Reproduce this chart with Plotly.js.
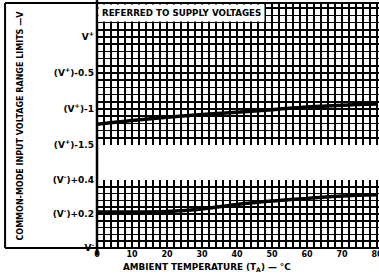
<!DOCTYPE html>
<html>
<head>
<meta charset="utf-8">
<script src="https://cdn.plot.ly/plotly-3.0.1.min.js"></script>
<style>html,body{margin:0;padding:0;background:#fff;}#chart{width:379px;height:277px;}</style>
</head>
<body>
<div id="chart"></div>
<script>
// Ambient temperature, deg C
const temps = [0, 10, 20, 30, 40, 50, 60, 70, 80];
// Upper common-mode limit, volts relative to V+
const upperLimit = [-1.213, -1.16, -1.115, -1.078, -1.044, -1.01, -0.972, -0.947, -0.931];
// Lower common-mode limit, volts relative to V-
const lowerLimit = [0.212, 0.212, 0.215, 0.229, 0.256, 0.276, 0.291, 0.306, 0.313];

const xTickVals = [0, 10, 20, 30, 40, 50, 60, 70, 80];
const xTickText = ['0', '10', '20', '30', '40', '50', '60', '70', '80'];
const upperTickVals = [0, -0.5, -1, -1.5];
const upperTickText = ['V<sup>+</sup>', '(V<sup>+</sup>)-0.5', '(V<sup>+</sup>)-1', '(V<sup>+</sup>)-1.5'];
const lowerTickVals = [0.4, 0.2, 0];
const lowerTickText = ['(V<sup>-</sup>)+0.4', '(V<sup>-</sup>)+0.2', 'V<sup>-</sup>'];

const F = 'DejaVu Sans';
const tickFont = {family: F, size: 9, color: '#000', weight: 'bold'};

const traces = [
  {x: temps, y: upperLimit, xaxis: 'x', yaxis: 'y', mode: 'lines',
   line: {color: '#000', width: 3.5, shape: 'spline'}, hoverinfo: 'skip'},
  {x: temps, y: lowerLimit, xaxis: 'x', yaxis: 'y2', mode: 'lines',
   line: {color: '#000', width: 3.5, shape: 'spline'}, hoverinfo: 'skip'}
];

const gridCommon = {
  showline: false, zeroline: false, ticks: '', fixedrange: true
};

const layout = {
  width: 379, height: 277,
  margin: {l: 97, r: 0, t: 3, b: 29},
  paper_bgcolor: '#fff', plot_bgcolor: '#fff',
  showlegend: false,
  font: {family: F, color: '#000'},
  xaxis: Object.assign({}, gridCommon, {
    range: [0, 80.57], domain: [0, 1],
    tickmode: 'array', tickvals: xTickVals, ticktext: xTickText,
    tickfont: {family: F, size: 8, color: '#000', weight: 'bold'},
    ticklabeloverflow: 'allow',
    showgrid: true, gridcolor: '#000', gridwidth: 2,
    minor: {tick0: 0, dtick: 2, showgrid: true, gridcolor: '#000', gridwidth: 1.5},
    anchor: 'y2'
  }),
  yaxis: Object.assign({}, gridCommon, {
    domain: [0.4204, 1], range: [-1.5, 0.472],
    tickmode: 'array', tickvals: upperTickVals, ticktext: upperTickText,
    tickfont: tickFont, showgrid: true, gridcolor: '#000', gridwidth: 2.2,
    minor: {tick0: 0, dtick: 0.1, showgrid: true, gridcolor: '#000', gridwidth: 1.5},
    ticklabelstandoff: 2
  }),
  yaxis2: Object.assign({}, gridCommon, {
    domain: [0, 0.2776], range: [0, 0.4],
    tickmode: 'array', tickvals: lowerTickVals, ticktext: lowerTickText,
    tickfont: tickFont, showgrid: true, gridcolor: '#000', gridwidth: 2.2,
    minor: {tick0: 0, dtick: 0.04, showgrid: true, gridcolor: '#000', gridwidth: 1.5},
    ticklabelstandoff: 2
  }),
  shapes: [
    {type: 'line', xref: 'paper', yref: 'paper', x0: -0.326, x1: 1, y0: 1, y1: 1, line: {color: '#000', width: 2}},
    {type: 'line', xref: 'paper', yref: 'paper', x0: -0.326, x1: 1, y0: 0, y1: 0, line: {color: '#000', width: 2}},
    {type: 'line', xref: 'paper', yref: 'paper', x0: -0.326, x1: -0.326, y0: 0, y1: 1, line: {color: '#000', width: 2}},
    {type: 'line', xref: 'paper', yref: 'paper', x0: 0, x1: 0, y0: -0.03, y1: 1.012, line: {color: '#000', width: 2.5}}
  ],
  annotations: [
    {text: 'REFERRED TO SUPPLY VOLTAGES', xref: 'paper', yref: 'paper',
     x: 0.005, y: 0.997, xanchor: 'left', yanchor: 'top', showarrow: false,
     bgcolor: '#fff', borderpad: 3,
     font: {family: F, size: 8.7, color: '#000', weight: 'bold'}},
    {text: 'COMMON-MODE INPUT VOLTAGE RANGE LIMITS —V', xref: 'paper', yref: 'paper',
     x: -0.273, y: 0.5, xanchor: 'center', yanchor: 'middle', textangle: -90, showarrow: false,
     font: {family: F, size: 8, color: '#000', weight: 'bold'}},
    {text: 'AMBIENT TEMPERATURE (T<sub>A</sub>) — °C', xref: 'paper', yref: 'paper',
     x: 0.39, y: -0.078, xanchor: 'center', yanchor: 'middle', showarrow: false,
     font: {family: F, size: 8.8, color: '#000', weight: 'bold'}}
  ]
};

Plotly.newPlot('chart', traces, layout, {staticPlot: true, displayModeBar: false});
</script>
</body>
</html>
